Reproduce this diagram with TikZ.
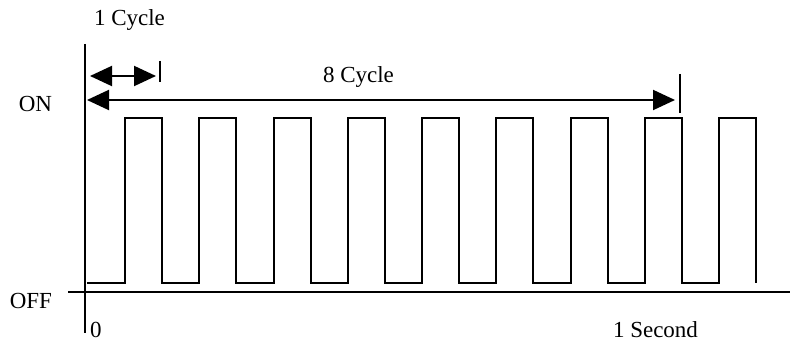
\documentclass[tikz,border=0pt]{standalone}
\usepackage{fontspec}
\setmainfont{Liberation Serif}
\usetikzlibrary{arrows.meta}
\begin{document}
\begin{tikzpicture}[x=0.5pt,y=-0.5pt,
  line width=1pt,
  lbl/.style={inner sep=0pt,font=\fontsize{11.5}{13}\selectfont},
  axis/.style={draw,line width=1pt},
  span/.style={draw,line width=1pt,{Triangle[length=11pt,width=10pt]}-{Triangle[length=11pt,width=10pt]}},
  wave/.style={draw,line width=1pt,line join=miter}]
\useasboundingbox (0,0) rectangle (790,341);

% axes
\coordinate (ytop) at (84.5,44);
\coordinate (ybot) at (84.5,333);
\coordinate (xleft) at (68,292);
\coordinate (xright) at (790,292);
\draw[axis] (ytop) -- (ybot);
\draw[axis] (xleft) -- (xright);

% axis labels
\node[lbl,anchor=base east] (on) at (53,112) {ON};
\node[lbl,anchor=base east] (off) at (53,308) {OFF};
\node[lbl,anchor=base west] (zero) at (89,337) {0};
\node[lbl,anchor=base west] (sec) at (612,337) {1 Second};

% square wave: nine pulses, period 74.25
\draw[wave] (87,283) foreach \i in {0,...,8} {
  -- ({125+74.25*\i},283) -- ({125+74.25*\i},118)
  -- ({162+74.25*\i},118) -- ({162+74.25*\i},283) };

% one-cycle span
\node[lbl,anchor=base west] (cyc1) at (93,26) {1 Cycle};
\coordinate (c1a) at (90,76);
\coordinate (c1b) at (156,76);
\coordinate (t1top) at (160,61);
\coordinate (t1bot) at (160,82);
\draw[span] (c1a) -- (c1b);
\draw[axis] (t1top) -- (t1bot);

% eight-cycle span
\node[lbl,anchor=base west] (cyc8) at (322,83) {8 Cycle};
\coordinate (c8a) at (87,100);
\coordinate (c8b) at (675,100);
\coordinate (t8top) at (680,74);
\coordinate (t8bot) at (680,113);
\draw[span] (c8a) -- (c8b);
\draw[axis] (t8top) -- (t8bot);
\end{tikzpicture}
\end{document}
